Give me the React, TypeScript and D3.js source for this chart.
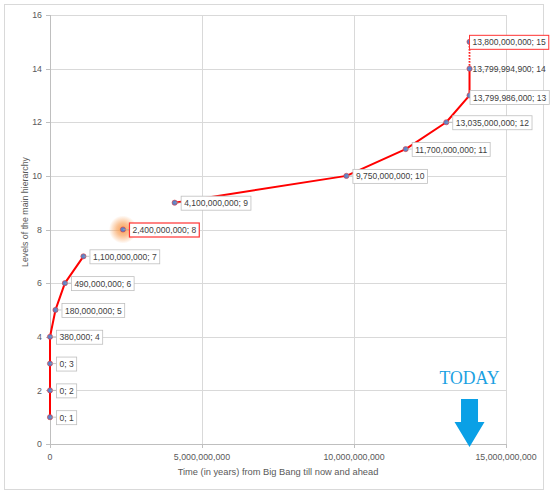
import React, { useMemo } from "react";
import * as d3 from "d3";

// ---- data ----
const years: number[] = [
  0, 0, 0, 380000, 180000000, 490000000, 1100000000, 2400000000, 4100000000,
  9750000000, 11700000000, 13035000000, 13799986000, 13799994900, 13800000000,
];
const levels: number[] = [1, 2, 3, 4, 5, 6, 7, 8, 9, 10, 11, 12, 13, 14, 15];
const pointLabels: string[] = [
  "0; 1", "0; 2", "0; 3", "380,000; 4", "180,000,000; 5", "490,000,000; 6",
  "1,100,000,000; 7", "2,400,000,000; 8", "4,100,000,000; 9", "9,750,000,000; 10",
  "11,700,000,000; 11", "13,035,000,000; 12", "13,799,986,000; 13",
  "13,799,994,900; 14", "13,800,000,000; 15",
];
const xTicks: number[] = [0, 5000000000, 10000000000, 15000000000];
const xTickLabels: string[] = ["0", "5,000,000,000", "10,000,000,000", "15,000,000,000"];
const yTicks: number[] = [0, 2, 4, 6, 8, 10, 12, 14, 16];
const xTitle = "Time (in years) from Big Bang till now and ahead";
const yTitle = "Levels of the main hierarchy";
const todayText = "TODAY";
const todayValue = 13800000000;

const W = 550;
const H = 494;
const FONT = "'Liberation Sans', Arial, sans-serif";

const measure = (() => {
  let ctx: CanvasRenderingContext2D | null = null;
  return (t: string, size: number) => {
    if (!ctx) {
      const c = document.createElement("canvas");
      ctx = c.getContext("2d");
    }
    if (!ctx) return t.length * size * 0.5;
    ctx.font = `${size}px 'Liberation Sans', Arial, sans-serif`;
    return ctx.measureText(t).width;
  };
})();

export default function App() {
  const x = useMemo(() => d3.scaleLinear().domain([0, 15000000000]).range([50, 506]), []);
  const y = useMemo(() => d3.scaleLinear().domain([0, 16]).range([444, 15]), []);

  const pts = years.map((v, i) => ({ x: x(v), y: y(levels[i]), i }));
  const line = d3
    .line<{ x: number; y: number }>()
    .x((d) => d.x)
    .y((d) => d.y);

  const seriesA = pts.slice(0, 7);
  const seriesB = pts.slice(8, 14);
  const last = [pts[13], pts[14]];

  const labelSize = 8.5;
  const labelLayout = pts.map((p, i) => {
    let dx = 6;
    let dy = 0;
    let border = "#bfbfbf";
    let sw = 0.8;
    if (i === 7) { border = "#ff3333"; sw = 1.2; }
    if (i === 12) { dx = 0; dy = 1.5; }
    if (i === 13) { dx = -0.5; border = "none"; }
    if (i === 14) { dx = -0.5; border = "#ff3333"; sw = 1; }
    return { dx, dy, border, sw };
  });

  const ax = x(todayValue);

  return (
    <svg
      width={W}
      height={H}
      style={{ position: "absolute", left: 0, top: 0, display: "block", background: "#fff" }}
      fontFamily={FONT}
    >
      <defs>
        <radialGradient id="glow">
          <stop offset="0%" stopColor="#f79646" stopOpacity={0.9} />
          <stop offset="45%" stopColor="#f79646" stopOpacity={0.6} />
          <stop offset="100%" stopColor="#f79646" stopOpacity={0} />
        </radialGradient>
      </defs>
      <rect x={4.5} y={4.5} width={539} height={485} fill="#fff" stroke="#d9d9d9" strokeWidth={1} />

      {/* gridlines */}
      {yTicks.map((t) => (
        <line key={"gy" + t} x1={50} x2={506} y1={Math.round(y(t)) + 0.5} y2={Math.round(y(t)) + 0.5}
          stroke={t === 0 ? "#bfbfbf" : "#d9d9d9"} strokeWidth={1} />
      ))}
      {xTicks.map((t) => (
        <line key={"gx" + t} x1={Math.round(x(t)) + 0.5} x2={Math.round(x(t)) + 0.5} y1={15} y2={444}
          stroke={t === 0 ? "#bfbfbf" : "#d9d9d9"} strokeWidth={1} />
      ))}
      {/* ticks */}
      {yTicks.map((t) => (
        <line key={"ty" + t} x1={46} x2={50} y1={Math.round(y(t)) + 0.5} y2={Math.round(y(t)) + 0.5} stroke="#bfbfbf" />
      ))}
      {xTicks.map((t) => (
        <line key={"tx" + t} x1={Math.round(x(t)) + 0.5} x2={Math.round(x(t)) + 0.5} y1={444} y2={448} stroke="#bfbfbf" />
      ))}
      {/* tick labels */}
      {yTicks.map((t) => (
        <text key={"ly" + t} x={42} y={y(t) + 3.2} textAnchor="end" fontSize={8.8} fill="#595959">{t}</text>
      ))}
      {xTicks.map((t, i) => (
        <text key={"lx" + t} x={x(t)} y={460} textAnchor="middle" fontSize={8.8} fill="#595959">{xTickLabels[i]}</text>
      ))}
      <text x={(50 + 506) / 2} y={475} textAnchor="middle" fontSize={9.3} fill="#595959">{xTitle}</text>
      <text transform={`translate(27.5,212) rotate(-90)`} textAnchor="middle" fontSize={8.8} fill="#595959">{yTitle}</text>

      {/* glow on highlighted point */}
      <circle cx={pts[7].x} cy={pts[7].y} r={14} fill="url(#glow)" />

      {/* lines */}
      <path d={line(seriesA) || ""} fill="none" stroke="#ff0000" strokeWidth={2} strokeLinejoin="round" />
      <path d={line(seriesB) || ""} fill="none" stroke="#ff0000" strokeWidth={2} strokeLinejoin="round" />
      <path d={`M${last[0].x},${last[0].y}L${last[1].x},${last[1].y}`} fill="none" stroke="#ff0000" strokeWidth={1.8} strokeDasharray="1.5,1.5" />

      {/* markers */}
      {pts.map((p) => (
        <circle key={"m" + p.i} cx={p.x} cy={p.y} r={2.6} fill="#5b83c9" stroke="#e03a3a" strokeWidth={0.6} />
      ))}

      {/* labels */}
      {pts.map((p, i) => {
        const L = labelLayout[i];
        const tw = measure(pointLabels[i], labelSize);
        const bx = p.x + L.dx;
        const bh = 14;
        const by = p.y + L.dy - bh / 2;
        return (
          <g key={"lb" + i}>
            {L.dx > 0 && (
              <line x1={p.x} y1={p.y} x2={bx} y2={p.y} stroke="#a6a6a6" strokeWidth={0.6} />
            )}
            {L.border !== "none" && (
              <rect x={bx + 0.5} y={by + 0.5} width={tw + 6} height={bh} fill="#fff" stroke={L.border} strokeWidth={L.sw} />
            )}
            <text x={bx + 3.5} y={by + bh / 2 + 3.6} fontSize={labelSize} fill="#404040">{pointLabels[i]}</text>
          </g>
        );
      })}

      {/* TODAY annotation */}
      <text x={ax} y={384} textAnchor="middle" fontFamily="'Liberation Serif', 'Times New Roman', serif"
        fontSize={19} fill="#1ba1e2" textLength={60} lengthAdjust="spacingAndGlyphs">{todayText}</text>
      <path
        d={`M${ax - 8.5},399 L${ax + 8.5},399 L${ax + 8.5},422 L${ax + 15},422 L${ax},447 L${ax - 15},422 L${ax - 8.5},422 Z`}
        fill="#0aa0e6"
      />
    </svg>
  );
}
